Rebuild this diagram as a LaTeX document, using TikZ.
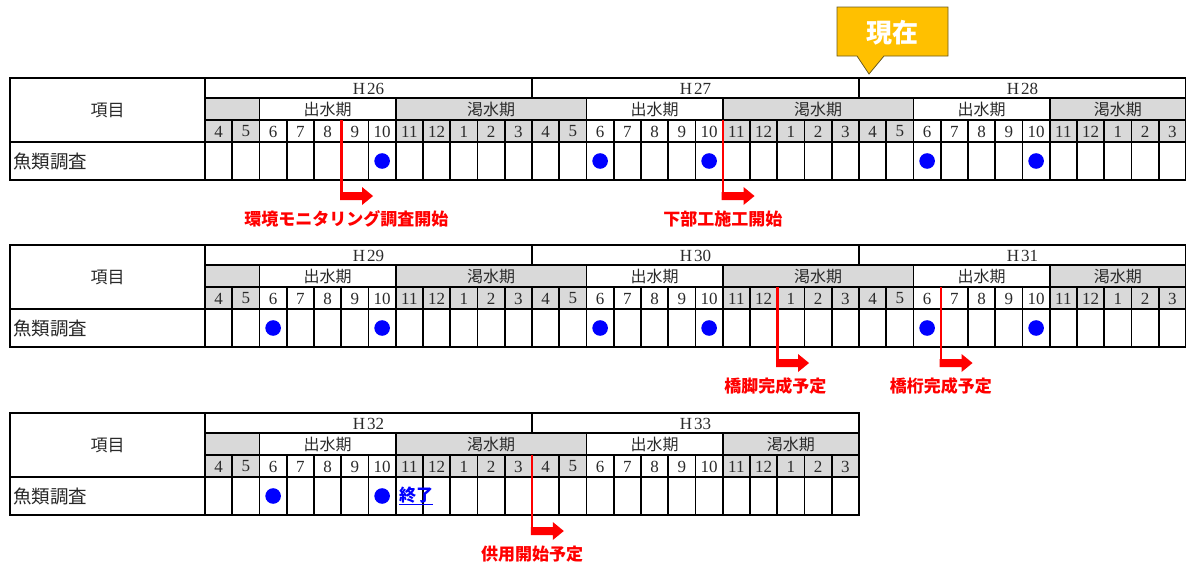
\documentclass[tikz,border=0pt]{standalone}
\usepackage{fontspec}
\newfontfamily\jp{Noto Sans CJK JP}
\newfontfamily\numf{Liberation Serif}
\definecolor{gr}{HTML}{D9D9D9}
\definecolor{txt}{HTML}{2A2A2A}
\definecolor{callout}{HTML}{FFC000}
\definecolor{calloutline}{HTML}{6B5A1E}
\definecolor{bl}{HTML}{0000FF}
\definecolor{rd}{HTML}{FF0000}
\tikzset{
 grid/.style={line width=1.6pt, black},
 frame/.style={line width=2.4pt, black},
 num/.style={text=txt, font=\numf\fontsize{17}{17}\selectfont, inner sep=0pt},
 seas/.style={text=txt, font=\jp\fontsize{16}{16}\selectfont, inner sep=0pt},
 head/.style={text=txt, font=\jp\fontsize{17}{17}\selectfont, inner sep=0pt},
 item/.style={text=black!85, font=\jp\fontsize{18.5}{18.5}\selectfont, inner sep=0pt, anchor=west},
 bdot/.style={circle, fill=bl, minimum size=15.6pt, inner sep=0pt},
 redline/.style={rd, line width=2.5pt},
 redlab/.style={text=rd, font=\jp\bfseries\fontsize{17}{17}\selectfont, inner sep=0pt},
}
\newcommand\gtable[3]{%
\begin{scope}[shift={(0,#1)}]
\pgfmathtruncatemacro\gN{12*#2}
\pgfmathtruncatemacro\gNm{12*#2-1}
\pgfmathtruncatemacro\gK{#2-1}
\pgfmathsetmacro\gxe{205+\gN*27.25}
\fill[gr] (205,98) rectangle (259,120);
\foreach \k in {0,...,\gK}{
  \pgfmathsetmacro\xd{205+(12*\k+7)*27.25}
  \pgfmathsetmacro\xf{min(205+(12*\k+14)*27.25,\gxe)}
  \fill[gr] (\xd,98) rectangle (\xf,120);
}
\foreach \i in {0,...,\gNm}{
  \pgfmathtruncatemacro\j{mod(\i,12)}
  \pgfmathsetmacro\xa{205+\i*27.25}
  \ifnum\j<2 \fill[gr] (\xa,120) rectangle ++(27.25,22);\fi
  \ifnum\j>6 \fill[gr] (\xa,120) rectangle ++(27.25,22);\fi
}
\foreach \k in {0,...,\gK}{
  \pgfmathsetmacro\xa{205+(12*\k)*27.25}
  \pgfmathsetmacro\xb{205+(12*\k+12)*27.25}
  \pgfmathsetmacro\xc{205+(12*\k+2)*27.25}
  \pgfmathsetmacro\xd{205+(12*\k+7)*27.25}
  \pgfmathsetmacro\xf{min(205+(12*\k+14)*27.25,\gxe)}
  \pgfmathtruncatemacro\yr{#3+\k}
  \node[num] (y#1n\k) at ({(\xa+\xb)/2},88.5) {H\kern2pt\yr};
  \node[seas] (w#1n\k) at ({(\xc+\xd)/2},109) {出水期};
  \node[seas] (d#1n\k) at ({(\xd+\xf)/2},109) {渇水期};
  \draw[grid] (\xa,78) -- (\xa,98);
  \draw[grid] (\xc,98) -- (\xc,120);
  \draw[grid] (\xd,98) -- (\xd,120);
}
\foreach \i in {0,...,\gNm}{
  \pgfmathtruncatemacro\j{mod(\i,12)}
  \pgfmathtruncatemacro\m{mod(\j+3,12)+1}
  \pgfmathsetmacro\xa{205+\i*27.25}
  \node[num] (m#1n\i) at (\xa+13.625,131.5) {\m};
}
\foreach \i in {1,...,\gNm}{
  \draw[grid] ({205+\i*27.25},120) -- ({205+\i*27.25},180);
}
\draw[grid] (205,98) -- (\gxe,98);
\draw[grid] (205,120) -- (\gxe,120);
\draw[grid] (10,142) -- (\gxe,142);
\draw[grid] (205,78) -- (205,180);
\draw[frame] (10,78) rectangle (\gxe,180);
\node[head] (h#1) at (107.5,110) {項目};
\node[item] (f#1) at (13,161) {魚類調査};
\end{scope}}
\newcommand\bluedot[3]{\node[bdot] (#1) at ({205+#2*27.25+13.625},161+#3) {};}
\newcommand\redarrow[5]{%
 \pgfmathsetmacro\rx{205+#2*27.25}
 \coordinate (#1a) at (\rx,120+#3);
 \coordinate (#1b) at (\rx,200+#3);
 \draw[redline] (#1a) -- (#1b);
 \fill[rd] ([xshift=-1.2pt]#1b) -- ++(0,-8) -- ++(22,0) -- ++(0,-5) -- ++(11,9) -- ++(-11,9) -- ++(0,-5) -- cycle;
 \node[redlab] (#1l) at (\rx+#4,219+#3) {#5};
}
\begin{document}
\begin{tikzpicture}[x=1pt,y=-1pt]
\useasboundingbox (0,0) rectangle (1186,568);
\gtable{0}{3}{26}
\gtable{167}{3}{29}
\gtable{335}{2}{32}
% dots
\bluedot{a1}{6}{0}
\bluedot{a2}{14}{0}
\bluedot{a3}{18}{0}
\bluedot{a4}{26}{0}
\bluedot{a5}{30}{0}
\bluedot{b1}{2}{167}
\bluedot{b2}{6}{167}
\bluedot{b3}{14}{167}
\bluedot{b4}{18}{167}
\bluedot{b5}{26}{167}
\bluedot{b6}{30}{167}
\bluedot{c1}{2}{335}
\bluedot{c2}{6}{335}
\node[anchor=west, text=bl, font=\jp\bfseries\fontsize{17}{17}\selectfont, inner sep=0pt] (owari) at (399,496) {\underline{終了}};
% red arrows
\redarrow{ra}{5}{0}{5}{環境モニタリング調査開始}
\redarrow{rb}{19}{0}{0}{下部工施工開始}
\redarrow{rc}{21}{167}{-2}{橋脚完成予定}
\redarrow{rd}{27}{167}{0}{橋桁完成予定}
\redarrow{re}{12}{335}{0}{供用開始予定}
% callout
\filldraw[fill=callout, draw=calloutline, line width=0.8pt] (837,7) -- (948,7) -- (948,56) -- (884,56) -- (869,74) -- (857,56) -- (837,56) -- cycle;
\node[text=white, font=\jp\bfseries\fontsize{26}{26}\selectfont, inner sep=0pt] (now) at (892.5,33) {現在};
\end{tikzpicture}
\end{document}
